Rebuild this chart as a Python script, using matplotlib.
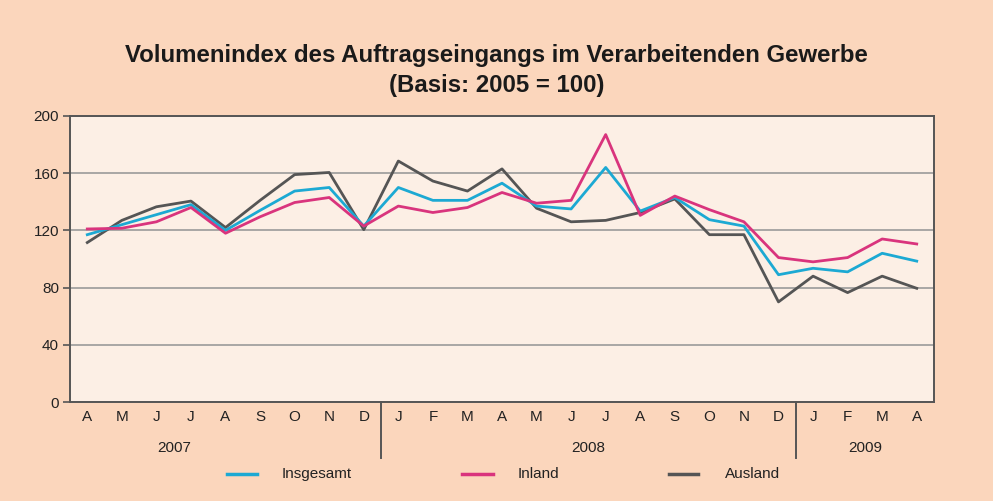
import matplotlib
matplotlib.use("Agg")
import matplotlib.pyplot as plt
from matplotlib.lines import Line2D

months = ["A", "M", "J", "J", "A", "S", "O", "N", "D",
          "J", "F", "M", "A", "M", "J", "J", "A", "S", "O", "N", "D",
          "J", "F", "M", "A"]
years = ["2007", "2008", "2009"]
year_counts = [9, 12, 4]

insgesamt = [117, 124, 131, 138, 120, 134, 147.5, 150, 123,
             150, 141, 141, 153, 137, 135, 164, 133.5, 143, 127.5, 123, 89,
             93.5, 91, 104, 98.5]
inland = [121, 121.5, 126, 136, 118, 129.5, 139.5, 143, 123,
          137, 132.5, 136, 146.5, 139, 141, 187, 130.5, 144, 134.5, 126, 101,
          98, 101, 114, 110.5]
ausland = [111.5, 127, 136.5, 140.5, 122, 141, 159, 160.5, 120.5,
           168.5, 154.5, 147.5, 163, 135.5, 126, 127, 132.5, 142, 117, 117, 70,
           88, 76.5, 88, 79.5]
series_names = ["Insgesamt", "Inland", "Ausland"]

c_blue = "#1CA9D3"
c_pink = "#D9347D"
c_gray = "#555555"
bg = "#FBD6BC"
plot_bg = "#FCEFE5"

plt.rcParams['font.family'] = ['Liberation Sans', 'DejaVu Sans']

fig = plt.figure(figsize=(9.93, 5.01), dpi=100, facecolor=bg)
ax = fig.add_axes([0.0705, 0.1976, 0.8701, 0.5709])
ax.set_facecolor(plot_bg)

x = list(range(len(months)))
ax.plot(x, ausland, color=c_gray, lw=2.0, zorder=3)
ax.plot(x, insgesamt, color=c_blue, lw=2.0, zorder=4)
ax.plot(x, inland, color=c_pink, lw=2.0, zorder=5)

ax.set_xlim(-0.5, len(months) - 0.5)
ax.set_ylim(0, 200)
ax.set_yticks([0, 40, 80, 120, 160, 200])
ax.yaxis.grid(True, color="#9A9A9A", lw=1.2, zorder=1)
ax.set_axisbelow(True)
ax.tick_params(axis='y', labelsize=11, colors="#222222", length=5, width=1.2, pad=3, color="#555555")
ax.set_xticks(x)
ax.set_xticklabels(months)
ax.tick_params(axis='x', labelsize=11, length=0, pad=6, labelcolor="#222222")
for s in ax.spines.values():
    s.set_color("#555555")
    s.set_linewidth(1.4)

# year separators and labels
start = 0
for i, (yr, n) in enumerate(zip(years, year_counts)):
    if i == 0:
        # first (partial) year label is centred over the full calendar year
        mid = (start + n - 1) - 5.5
    else:
        mid = start + (n - 1) / 2
    ax.annotate(yr, xy=(mid, 0), xycoords=('data', 'axes fraction'),
                xytext=(0, -33), textcoords='offset points', ha='center', va='center',
                fontsize=11, color="#222222", annotation_clip=False)
    if i > 0:
        ax.plot([start - 0.5, start - 0.5], [0, -0.195], transform=ax.get_xaxis_transform(),
                color="#555555", lw=1.4, clip_on=False)
    start += n

fig.text(0.5, 0.889, "Volumenindex des Auftragseingangs im Verarbeitenden Gewerbe",
         ha='center', va='center', fontsize=17.3, fontweight='bold', color="#1a1a1a")
fig.text(0.5, 0.830, "(Basis: 2005 = 100)",
         ha='center', va='center', fontsize=17.3, fontweight='bold', color="#1a1a1a")

# legend (manual placement to match reference spacing)
leg_y = 1 - 474 / 501
leg_items = [(c_blue, 227, 257, 282), (c_pink, 462, 493, 518), (c_gray, 669, 698, 725)]
for name, (col, x1, x2, xt) in zip(series_names, leg_items):
    fig.add_artist(Line2D([x1 / 993, x2 / 993], [leg_y, leg_y], transform=fig.transFigure,
                          color=col, lw=2.5))
    fig.text(xt / 993, leg_y, name, ha='left', va='center', fontsize=11, color="#222222")

fig.savefig("out.png", dpi=100, facecolor=bg)
